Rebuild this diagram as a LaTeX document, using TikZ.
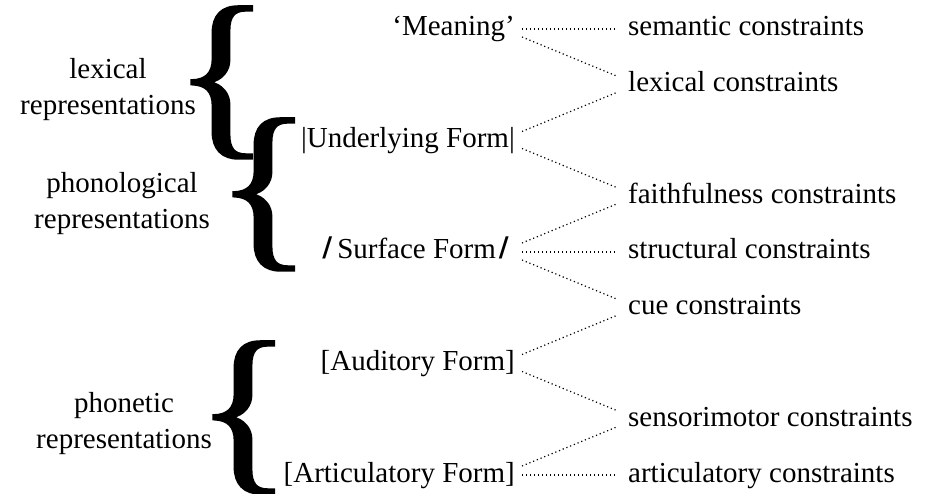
\documentclass[tikz,border=0pt]{standalone}
\usepackage{fontspec}
\setmainfont{Liberation Serif}
\newfontfamily\slashfont{DejaVu Sans}
\newfontfamily\bracefont[FakeBold=1.2]{Liberation Serif}
\usepackage{graphicx}

\tikzset{
  lhs/.style={anchor=base east, inner xsep=7pt, inner ysep=0pt,
    text height=20pt, text depth=6pt},
  rhs/.style={anchor=base west, inner xsep=12pt, inner ysep=0pt,
    text height=20pt, text depth=6pt},
  group/.style={align=center, inner sep=0pt},
  curly/.style={anchor=base west, inner sep=0pt,
    font=\bracefont\fontsize{184}{184}\selectfont},
  link/.style={line width=1.2pt, dash pattern=on 1.2pt off 2.8pt}
}
\newcommand{\bigbrace}{\scalebox{1.1}[1]{\{}}
\newcommand{\sfslash}{{\fontsize{27}{27}\slashfont\bfseries\raisebox{2pt}{/}}}

\begin{document}
\begin{tikzpicture}[x=1pt,y=1pt,font=\fontsize{29}{36}\selectfont]
\useasboundingbox (0,0) rectangle (939,493);

% representations
\node[group] (lexrep) at (108,403) {lexical\\representations};
\node[group] (phonrep) at (122,289) {phonological\\representations};
\node[group] (phetrep) at (124,69) {phonetic\\representations};

% braces
\node[curly] (lexbr) at (173,359) {\bigbrace};
\node[curly] (phonbr) at (215,247) {\bigbrace};
\node[curly] (phetbr) at (195,24) {\bigbrace};

% forms
\begin{scope}[every node/.style={lhs}]
\node (mean) at (522,457) {‘Meaning’};
\node (under) at (522,345.5) {|Underlying Form|};
\node (surf) at (522,234) {\sfslash\kern5pt Surface Form\kern3pt\sfslash\kern6pt};
\node (aud) at (522,122.5) {[Auditory Form]};
\node (artic) at (522,11) {[Articulatory Form]};
\end{scope}

% constraints
\begin{scope}[every node/.style={rhs}]
\node (sem) at (616,457) {semantic constraints};
\node (lex) at (616,401.25) {lexical constraints};
\node (faith) at (616,289.75) {faithfulness constraints};
\node (struc) at (616,234) {structural constraints};
\node (cue) at (616,178.25) {cue constraints};
\node (sens) at (616,66.75) {sensorimotor constraints};
\node (artc) at (616,11) {articulatory constraints};
\end{scope}

\draw[link] (mean.east) -- (sem.west);
\draw[link] ([yshift=-8pt]mean.east) -- ([yshift=9pt]lex.west);
\draw[link] ([yshift=9pt]under.east) -- ([yshift=-8pt]lex.west);
\draw[link] ([yshift=-8pt]under.east) -- ([yshift=9pt]faith.west);
\draw[link] ([yshift=9pt]surf.east) -- ([yshift=-8pt]faith.west);
\draw[link] (surf.east) -- (struc.west);
\draw[link] ([yshift=-8pt]surf.east) -- ([yshift=9pt]cue.west);
\draw[link] ([yshift=9pt]aud.east) -- ([yshift=-8pt]cue.west);
\draw[link] ([yshift=-8pt]aud.east) -- ([yshift=9pt]sens.west);
\draw[link] ([yshift=9pt]artic.east) -- ([yshift=-8pt]sens.west);
\draw[link] (artic.east) -- (artc.west);
\end{tikzpicture}
\end{document}
